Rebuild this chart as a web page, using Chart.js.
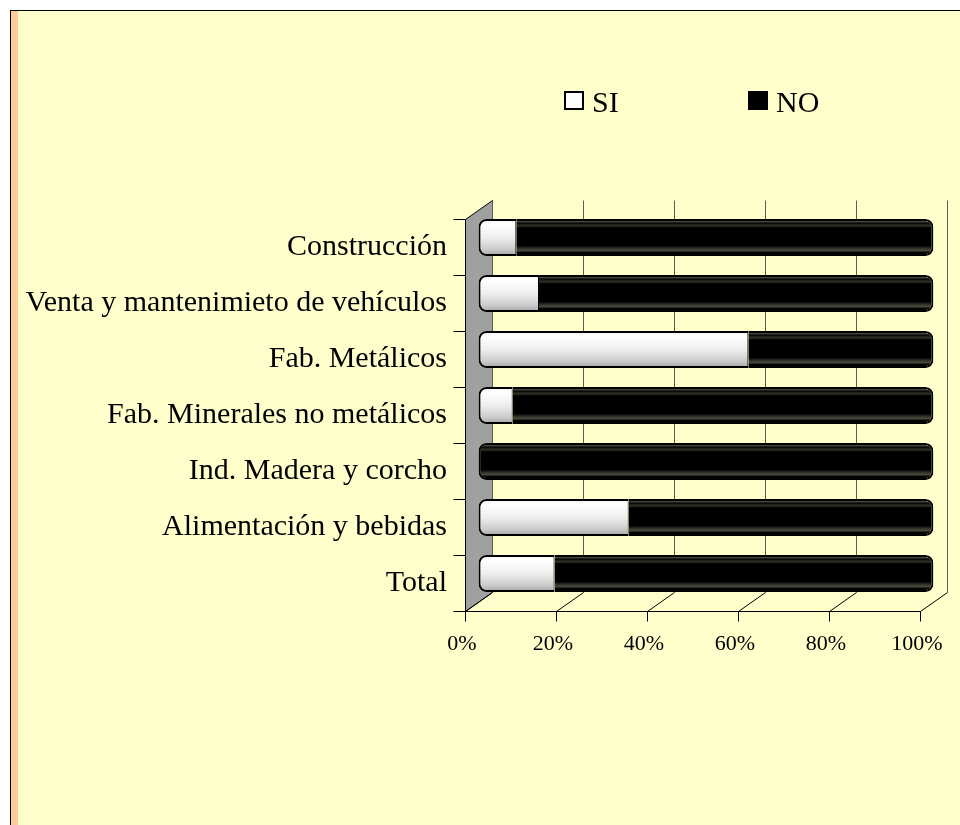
<!DOCTYPE html>
<html>
<head>
<meta charset="utf-8">
<script src="https://cdn.jsdelivr.net/npm/chart.js@4.4.1/dist/chart.umd.min.js"></script>
<style>
  html, body { margin: 0; padding: 0; background: #fff; overflow: hidden; }
  #marco { position: absolute; left: 10px; top: 10px; width: 949px; height: 815px;
    border-left: 1px solid #000; border-top: 1px solid #000; background: #ffffcc; }
  #franja { position: absolute; left: 0; top: 0; width: 7px; height: 100%; background: #ffcc99; }
  canvas { position: absolute; left: 0; top: 0; }
</style>
</head>
<body>
<div id="marco"><div id="franja"></div></div>
<canvas id="grafico" width="960" height="825"></canvas>
<script>
// Datos (% de empresas por sector)
const categorias = ['Construcción', 'Venta y mantenimieto de vehículos', 'Fab. Metálicos',
  'Fab. Minerales no metálicos', 'Ind. Madera y corcho', 'Alimentación y bebidas', 'Total'];
const si = [8.3, 13.3, 59.3, 7.5, 0, 33, 16.7];
const no = [91.7, 86.7, 40.7, 92.5, 100, 67, 83.3];
const marcas = ['0%', '20%', '40%', '60%', '80%', '100%'];
const colorLeyenda = ['#ffffff', '#000000'];

// desplazamiento de profundidad (mitad) del efecto 3D
const prof = { x: 13.5, y: 9.5 };

Chart.defaults.font.family = '"Liberation Serif", "Times New Roman", serif';
Chart.defaults.color = '#000';

function gradiente(c, stops) {
  const chart = c.chart;
  const y = chart.scales.y;
  if (!chart.chartArea || !y || c.dataIndex === undefined) return stops[0][1];
  const centro = y.getPixelForValue(c.dataIndex);
  const g = chart.ctx.createLinearGradient(0, centro - 18.5, 0, centro + 18.5);
  stops.forEach(s => g.addColorStop(s[0], s[1]));
  return g;
}

const tonosSi = [[0, '#e6e6e6'], [0.12, '#ffffff'], [0.5, '#eeeeee'], [0.8, '#cdcdcd'], [1, '#a6a6a6']];
const tonosNo = [[0, '#000'], [0.07, '#4a4a3c'], [0.11, '#050505'], [0.18, '#33332a'], [0.24, '#000'],
  [0.72, '#000'], [0.8, '#33332a'], [0.86, '#4a4a3c'], [0.9, '#050505'], [1, '#000']];

const linea = (ctx, x1, y1, x2, y2) => {
  ctx.beginPath(); ctx.moveTo(x1, y1); ctx.lineTo(x2, y2); ctx.stroke();
};
const px = v => Math.round(v) + 0.5;

// pared lateral, rejilla del fondo, suelo y ejes delanteros
const marco3d = {
  id: 'marco3d',
  beforeDatasetsDraw(chart) {
    const { ctx, chartArea: a, scales: { x } } = chart;
    const fx = v => px(x.getPixelForValue(v) - prof.x);
    const bx = v => px(x.getPixelForValue(v) + prof.x);
    const fTop = px(a.top + prof.y), fBot = px(a.bottom + prof.y);
    const bTop = px(a.top - prof.y), bBot = px(a.bottom - prof.y);
    const valores = x.ticks.map(t => t.value);
    ctx.save();
    ctx.lineWidth = 1;
    ctx.fillStyle = '#a0a0a0';
    ctx.strokeStyle = '#000';
    ctx.beginPath();
    ctx.moveTo(fx(0), fTop); ctx.lineTo(bx(0), bTop); ctx.lineTo(bx(0), bBot); ctx.lineTo(fx(0), fBot);
    ctx.closePath(); ctx.fill(); ctx.stroke();

    ctx.strokeStyle = '#5e5e4e';
    valores.forEach(v => { linea(ctx, bx(v), bTop, bx(v), bBot); });

    ctx.strokeStyle = '#000';
    valores.forEach(v => { linea(ctx, fx(v), fBot, bx(v), bBot); });
    linea(ctx, fx(0) - 12, fBot, fx(100), fBot);
    valores.forEach(v => { linea(ctx, fx(v), fBot, fx(v), fBot + 10); });
    linea(ctx, fx(0), fTop, fx(0), fBot);
    const n = categorias.length;
    for (let i = 0; i <= n; i++) {
      const yy = px(a.top + prof.y + i * (a.bottom - a.top) / n);
      linea(ctx, fx(0) - 12, yy, fx(0), yy);
    }
    ctx.restore();
  }
};

const leyenda = {
  id: 'leyenda',
  afterDraw(chart) {
    const ctx = chart.ctx;
    const pos = [565, 749];
    ctx.save();
    ctx.font = '30px "Liberation Serif", serif';
    ctx.textBaseline = 'alphabetic';
    chart.data.datasets.forEach((ds, i) => {
      ctx.fillStyle = colorLeyenda[i];
      ctx.fillRect(pos[i], 92, 18, 17);
      ctx.lineWidth = 2;
      ctx.strokeStyle = '#000';
      ctx.strokeRect(pos[i], 92, 18, 17);
      ctx.fillStyle = '#000';
      ctx.fillText(ds.label, pos[i] + 27, 112);
    });
    ctx.restore();
  }
};

new Chart(document.getElementById('grafico'), {
  type: 'bar',
  data: {
    labels: categorias,
    datasets: [
      {
        label: 'SI',
        data: si,
        backgroundColor: c => gradiente(c, tonosSi),
        borderColor: '#000',
        borderWidth: { left: 2, top: 2, bottom: 2, right: 1 },
        borderSkipped: false,
        borderRadius: { topLeft: 8, bottomLeft: 8, topRight: 0, bottomRight: 0 }
      },
      {
        label: 'NO',
        data: no,
        backgroundColor: c => gradiente(c, tonosNo),
        borderColor: '#000',
        borderWidth: c => ({ left: si[c.dataIndex] === 0 ? 2 : 0, top: 2, bottom: 2, right: 2 }),
        borderSkipped: false,
        borderRadius: c => {
          const r = si[c.dataIndex] === 0 ? 8 : 0;
          return { topLeft: r, bottomLeft: r, topRight: 8, bottomRight: 8 };
        }
      }
    ]
  },
  options: {
    indexAxis: 'y',
    responsive: false,
    animation: false,
    devicePixelRatio: 1,
    barPercentage: 0.66,
    categoryPercentage: 1,
    layout: { padding: { top: 209.5, right: 26.5, left: 0, bottom: 0 } },
    plugins: { legend: { display: false }, tooltip: { enabled: false } },
    scales: {
      x: {
        stacked: true,
        min: 0,
        max: 100,
        grid: { display: false, drawTicks: false },
        border: { display: false },
        afterFit: s => {
          s.height = 223.5;
          s.paddingLeft = 0;
          s.paddingRight = 0;
        },
        ticks: {
          stepSize: 20,
          maxRotation: 0,
          padding: 30,
          labelOffset: -16.5,
          font: { size: 22 },
          callback: (v, i) => marcas[i]
        }
      },
      y: {
        stacked: true,
        grid: { display: false, drawTicks: false },
        border: { display: false },
        afterFit: s => {
          s.width = 478.5;
          s.paddingTop = 0;
          s.paddingBottom = 0;
        },
        ticks: {
          autoSkip: false,
          padding: 31.5,
          labelOffset: 9.5,
          font: { size: 30 }
        }
      }
    }
  },
  plugins: [marco3d, leyenda]
});
</script>
</body>
</html>
